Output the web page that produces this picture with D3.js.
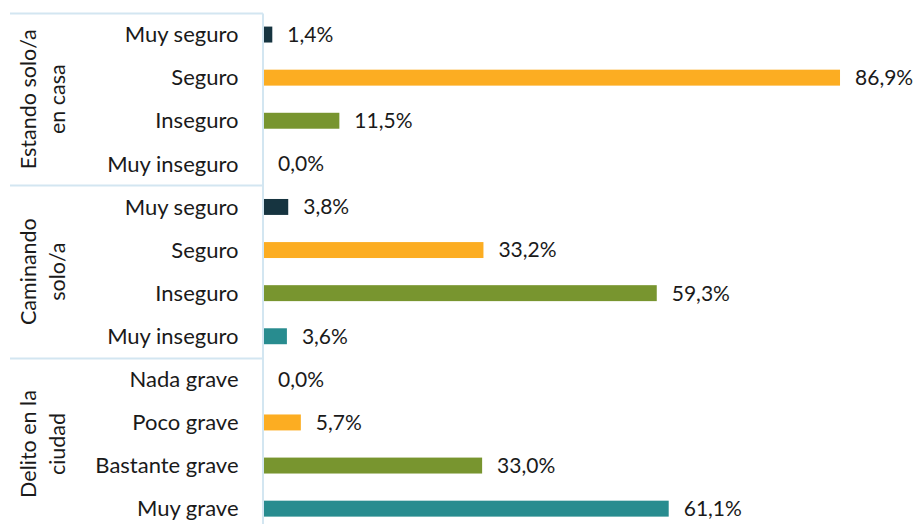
<!DOCTYPE html>
<html>
<head>
<meta charset="utf-8">
<script src="https://cdn.jsdelivr.net/npm/d3@7"></script>
<style>
  html, body { margin: 0; padding: 0; background: #ffffff; }
  svg { display: block; }
  text { font-family: Lato, "Open Sans", sans-serif; fill: #1a1a1a; }
</style>
</head>
<body>
<svg id="chart" width="917" height="524"></svg>
<script>
// Section titles (each split into the two lines drawn)
const groupTitles = [
  ["Estando solo/a", "en casa"],
  ["Caminando", "solo/a"],
  ["Delito en la", "ciudad"]
];

// Response options inside each section
const groupCategories = [
  ["Muy seguro", "Seguro", "Inseguro", "Muy inseguro"],
  ["Muy seguro", "Seguro", "Inseguro", "Muy inseguro"],
  ["Nada grave", "Poco grave", "Bastante grave", "Muy grave"]
];

// Percentages for each option
const groupValues = [
  [1.4, 86.9, 11.5, 0.0],
  [3.8, 33.2, 59.3, 3.6],
  [0.0, 5.7, 33.0, 61.1]
];

// Fill colour by option position within a section
const levelColors = ["#163440", "#fcad22", "#78952f", "#288c8f"];

const rows = [];
groupCategories.forEach((cats, g) => {
  cats.forEach((c, i) => {
    rows.push({ key: g + "-" + i, group: g, level: i, label: c, value: groupValues[g][i] });
  });
});

const svg = d3.select("#chart");
const axisX = 263;
const plotTop = 13;
const rowStep = 43.1;
const lineColor = "#d3e6f1";

const y = d3.scaleBand()
  .domain(rows.map(d => d.key))
  .range([plotTop, plotTop + rows.length * rowStep])
  .paddingInner(0.63)
  .paddingOuter(0.315);

const x = d3.scaleLinear().domain([0, 100]).range([axisX, axisX + 664]);

const fmt = v => d3.format(".1f")(v).replace(".", ",") + "%";

// Section separator lines
const groupEdges = groupCategories.map((cats, g) => plotTop + g * cats.length * rowStep);
svg.append("g").selectAll("line")
  .data(groupEdges)
  .join("line")
  .attr("x1", 10).attr("x2", axisX)
  .attr("y1", d => Math.round(d) + 0.5).attr("y2", d => Math.round(d) + 0.5)
  .attr("stroke", lineColor).attr("stroke-width", 2);

// Bars
svg.append("g").selectAll("rect")
  .data(rows)
  .join("rect")
  .attr("x", x(0))
  .attr("y", d => y(d.key))
  .attr("width", d => x(d.value) - x(0))
  .attr("height", y.bandwidth())
  .attr("fill", d => levelColors[d.level]);

// Category axis
const yAxis = d3.axisLeft(y)
  .tickSize(0)
  .tickSizeOuter(0)
  .tickPadding(24)
  .tickFormat(k => rows.find(r => r.key === k).label);

const ag = svg.append("g")
  .attr("transform", `translate(${axisX - 0.5},0)`)
  .call(yAxis);
ag.select(".domain").attr("stroke", lineColor).attr("stroke-width", 2);
ag.selectAll(".tick text")
  .attr("font-family", "Lato, 'Open Sans', sans-serif")
  .attr("font-size", 22)
  .attr("fill", "#1a1a1a")
  .attr("dy", "0.35em");

// Value labels
svg.append("g").selectAll("text")
  .data(rows)
  .join("text")
  .attr("x", d => x(d.value) + 15)
  .attr("y", d => y(d.key) + y.bandwidth() / 2)
  .attr("dy", "0.35em")
  .attr("font-size", 21)
  .text(d => fmt(d.value));

// Rotated section titles
const gl = svg.append("g").selectAll("g")
  .data(groupTitles)
  .join("g")
  .attr("transform", (d, g) => {
    const mid = groupEdges[g] + groupCategories[g].length * rowStep / 2;
    return `translate(0,${mid}) rotate(-90)`;
  });
gl.selectAll("text")
  .data(d => d)
  .join("text")
  .attr("text-anchor", "middle")
  .attr("x", 0)
  .attr("y", (d, i) => 36 + i * 29)
  .attr("font-size", 21.5)
  .text(d => d);
</script>
</body>
</html>
